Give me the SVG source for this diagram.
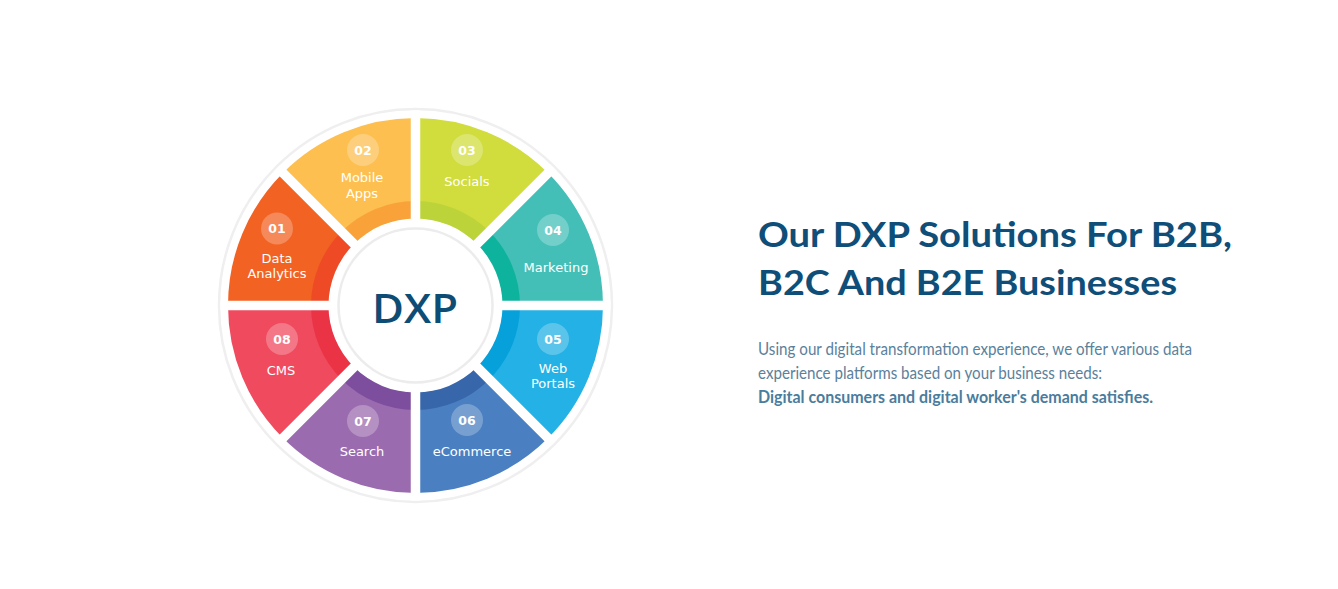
<svg xmlns="http://www.w3.org/2000/svg" xmlns:xlink="http://www.w3.org/1999/xlink" width="1338" height="589" viewBox="0 0 1338 589">
<style>
.lbl{font-family:"DejaVu Sans","Noto Sans",sans-serif;font-size:13px;fill:#ffffff;text-anchor:middle}
.num{font-family:"DejaVu Sans","Noto Sans",sans-serif;font-size:12.5px;font-weight:bold;fill:#ffffff;text-anchor:middle}
.dot{fill:#ffffff;fill-opacity:0.25}
.h{font-family:Lato,"Open Sans",sans-serif;font-weight:700;font-size:35px;fill:#0e4e78}
.p{font-family:Lato,"Open Sans",sans-serif;font-size:16.5px;fill:#5b819b}
.pb{font-family:Lato,"Open Sans",sans-serif;font-size:16.5px;font-weight:700;fill:#4b7c9c}
</style>
<defs>
<path id="wedge" d="M86.5,0 L187.5,0 A187.5,187.5 0 0 1 132.58,132.58 L61.16,61.16 A86.5,86.5 0 0 0 86.5,0 Z"/>
<path id="band" d="M86.5,0 L104.5,0 A104.5,104.5 0 0 1 73.89,73.89 L61.16,61.16 A86.5,86.5 0 0 0 86.5,0 Z"/>
</defs>
<rect width="1338" height="589" fill="#ffffff"/>
<circle cx="415.5" cy="305.5" r="196.5" fill="#ffffff" stroke="#efefef" stroke-width="2.5"/>
<g id="wheel" transform="translate(415.5,305.5)">
<g id="seg01"><use xlink:href="#wedge" href="#wedge" fill="#f26223" transform="rotate(180)"/><use xlink:href="#band" href="#band" fill="#ee4a26" transform="rotate(180)"/></g>
<g id="seg02"><use xlink:href="#wedge" href="#wedge" fill="#fdbf50" transform="rotate(225)"/><use xlink:href="#band" href="#band" fill="#f9a23a" transform="rotate(225)"/></g>
<g id="seg03"><use xlink:href="#wedge" href="#wedge" fill="#d1dc3d" transform="rotate(270)"/><use xlink:href="#band" href="#band" fill="#bcd33a" transform="rotate(270)"/></g>
<g id="seg04"><use xlink:href="#wedge" href="#wedge" fill="#44bfb8" transform="rotate(315)"/><use xlink:href="#band" href="#band" fill="#0db39c" transform="rotate(315)"/></g>
<g id="seg05"><use xlink:href="#wedge" href="#wedge" fill="#24b1e5"/><use xlink:href="#band" href="#band" fill="#06a0da"/></g>
<g id="seg06"><use xlink:href="#wedge" href="#wedge" fill="#4a80c2" transform="rotate(45)"/><use xlink:href="#band" href="#band" fill="#3766ab" transform="rotate(45)"/></g>
<g id="seg07"><use xlink:href="#wedge" href="#wedge" fill="#9b6baf" transform="rotate(90)"/><use xlink:href="#band" href="#band" fill="#7d4d9e" transform="rotate(90)"/></g>
<g id="seg08"><use xlink:href="#wedge" href="#wedge" fill="#ef4a5e" transform="rotate(135)"/><use xlink:href="#band" href="#band" fill="#ea3446" transform="rotate(135)"/></g>
<g id="gaps" stroke="#ffffff" stroke-width="9.5">
<line x1="-195" y1="0" x2="195" y2="0"/>
<line x1="-195" y1="0" x2="195" y2="0" transform="rotate(45)"/>
<line x1="-195" y1="0" x2="195" y2="0" transform="rotate(90)"/>
<line x1="-195" y1="0" x2="195" y2="0" transform="rotate(135)"/>
</g>
<circle r="87" fill="#ffffff"/>
<circle r="77" fill="#ffffff" stroke="#ececec" stroke-width="2.5"/>
</g>
<g id="center">
<text x="415" y="323" font-family="'Open Sans','Noto Sans',sans-serif" font-weight="600" font-size="40" fill="#0d4d75" text-anchor="middle" textLength="86" lengthAdjust="spacingAndGlyphs">DXP</text>
</g>
<g id="label01"><circle class="dot" cx="277" cy="228.5" r="16"/><text class="num" x="277" y="233">01</text><text class="lbl" x="277" y="263">Data</text><text class="lbl" x="277" y="278">Analytics</text></g>
<g id="label02"><circle class="dot" cx="363" cy="150" r="16"/><text class="num" x="363" y="154.5">02</text><text class="lbl" x="362" y="182">Mobile</text><text class="lbl" x="362" y="197.5">Apps</text></g>
<g id="label03"><circle class="dot" cx="467" cy="150" r="16"/><text class="num" x="467" y="154.5">03</text><text class="lbl" x="467" y="186">Socials</text></g>
<g id="label04"><circle class="dot" cx="553" cy="230" r="16"/><text class="num" x="553" y="234.5">04</text><text class="lbl" x="556" y="272">Marketing</text></g>
<g id="label05"><circle class="dot" cx="553" cy="339" r="16"/><text class="num" x="553" y="343.5">05</text><text class="lbl" x="553" y="373">Web</text><text class="lbl" x="553" y="388">Portals</text></g>
<g id="label06"><circle class="dot" cx="467" cy="420" r="16"/><text class="num" x="467" y="424.5">06</text><text class="lbl" x="472" y="456">eCommerce</text></g>
<g id="label07"><circle class="dot" cx="363" cy="421" r="16"/><text class="num" x="363" y="425.5">07</text><text class="lbl" x="362" y="456">Search</text></g>
<g id="label08"><circle class="dot" cx="282" cy="339" r="16"/><text class="num" x="282" y="343.5">08</text><text class="lbl" x="281" y="375">CMS</text></g>
<g id="heading">
<text class="h" x="758" y="247" textLength="474" lengthAdjust="spacingAndGlyphs">Our DXP Solutions For B2B,</text>
<text class="h" x="758" y="295" textLength="419" lengthAdjust="spacingAndGlyphs">B2C And B2E Businesses</text>
</g>
<g id="body">
<text class="p" x="758" y="355" textLength="434" lengthAdjust="spacingAndGlyphs">Using our digital transformation experience, we offer various data</text>
<text class="p" x="758" y="379" textLength="344" lengthAdjust="spacingAndGlyphs">experience platforms based on your business needs:</text>
<text class="pb" x="758" y="403" textLength="395" lengthAdjust="spacingAndGlyphs">Digital consumers and digital worker's demand satisfies.</text>
</g>
</svg>
